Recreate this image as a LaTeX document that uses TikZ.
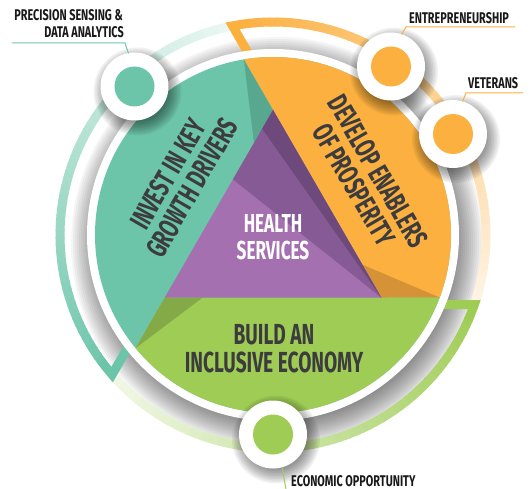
\documentclass[tikz,border=0pt]{standalone}
\usepackage{fontspec}
\newfontfamily\bebas[FakeStretch=0.66]{Fira Sans}
\newfontfamily\bebasS[FakeStretch=0.7]{Fira Sans}
\usetikzlibrary{calc}
\definecolor{tealA}{RGB}{108,197,169}
\definecolor{tealD}{RGB}{88,168,143}
\definecolor{orngA}{RGB}{251,176,64}
\definecolor{orngD}{RGB}{214,146,54}
\definecolor{grnA}{RGB}{158,204,84}
\definecolor{grnD}{RGB}{132,170,72}
\definecolor{purL}{RGB}{165,112,176}
\definecolor{purM}{RGB}{134,90,148}
\definecolor{purD}{RGB}{110,74,124}
\definecolor{txt}{RGB}{60,60,62}
\definecolor{lbltxt}{RGB}{25,25,25}
\newcommand\ringarc[2]{%
  \pgfmathsetmacro\ringB{#2-70.95}%
  \foreach \i in {0,...,57}{%
    \pgfmathsetmacro\ringS{\ringB+4+2*\i}%
    \pgfmathtruncatemacro\ringP{97-1.45*\i}%
    \draw[line width=9pt, draw=#1!\ringP!white] plot[domain=\ringS:\ringS+2.4, samples=3] ({273+213*cos(\x)},{235+213*sin(\x)});
  }}
\newcommand\ringbracket[2]{%
  \pgfmathsetmacro\ringB{#2-70.95}%
  \draw[line width=9pt, draw=#1, line join=miter] ($(O)+(#2:69.5)+(#2-90:160)$) -- plot[domain=\ringB:\ringB+4.5, samples=5] ({273+213*cos(\x)},{235+213*sin(\x)});}
\newcommand\smallcirc[2]{%
  \foreach \k in {0,...,9}{%
    \pgfmathsetmacro\shr{44-1.5*\k}%
    \fill[black, opacity=0.05] ($(#1)+(3,5)$) circle[radius=\shr pt];}
  \fill[white] (#1) circle[radius=34pt];
  \fill[#2] (#1) circle[radius=20pt];}
\tikzset{
  lbl/.style={font=\bebasS\bfseries\fontsize{15.5}{16}\selectfont, text=lbltxt, inner sep=0pt},
  big/.style={font=\bebas\bfseries\fontsize{29}{28}\selectfont, text=txt, align=center, inner sep=0pt},
  mid/.style={font=\bebas\bfseries\fontsize{26}{27}\selectfont, text=white, align=center, inner sep=0pt},
  lead/.style={line width=1pt}
}
\begin{document}
\begin{tikzpicture}[x=1pt,y=-1pt]
\useasboundingbox (0,0) rectangle (532,489);
\coordinate (O) at (273,235);
\coordinate (V1) at (273,110);
\coordinate (V2) at (164.75,297.5);
\coordinate (V3) at (381.25,297.5);
\coordinate (P1) at ($(O)+(-99.45:178)$);
\coordinate (P2) at ($(O)+(20.55:178)$);
\coordinate (P3) at ($(O)+(140.55:178)$);
% disc shadow
\foreach \k in {0,...,15}{%
  \pgfmathsetmacro\shr{206-2*\k}%
  \fill[black, opacity=0.038] ($(O)+(4,8)$) circle[radius=\shr pt];}
% outer rings
\ringarc{tealA}{210}
\ringarc{orngA}{-30}
\ringarc{grnA}{90}
\ringbracket{tealA}{210}
\ringbracket{orngA}{-30}
\ringbracket{grnA}{90}
% disc
\fill[white] (O) circle[radius=186pt];
\fill[tealA] (O) circle[radius=178pt];
\fill[orngA] (V1) -- (P1) -- plot[domain=-99.45:20.55, samples=80] ({273+178*cos(\x)},{235+178*sin(\x)}) -- (P2) -- (V3) -- cycle;
\fill[grnA] (V3) -- (P2) -- plot[domain=20.55:140.55, samples=80] ({273+178*cos(\x)},{235+178*sin(\x)}) -- (P3) -- (V2) -- cycle;
\fill[tealD] (V1) -- (P1) -- ($(V1)!38pt!(V2)$) -- cycle;
\fill[orngD] (V3) -- (P2) -- ($(V3)!38pt!(V1)$) -- cycle;
\fill[grnD] (V2) -- (P3) -- ($(V2)!38pt!(V3)$) -- cycle;
% purple triangle
\coordinate (S) at ($(V1)!0.37!(V2)$);
\coordinate (D) at ($(V1)!0.1!(V2)$);
\fill[purL] (V1) -- (V2) -- (V3) -- cycle;
\fill[purM] (V1) -- (S) -- (V3) -- cycle;
\fill[purD] (V1) -- (D) -- (V3) -- cycle;
% texts on disc
\node[mid] (health) at (273,237.5) {HEALTH\\SERVICES};
\node[big] (build) at (274,349) {BUILD AN\\INCLUSIVE ECONOMY};
\node[big, rotate=60] (invest) at (180,181) {INVEST IN KEY\\GROWTH DRIVERS};
\node[big, rotate=-60] (develop) at (366,178) {DEVELOP ENABLERS\\OF PROSPERITY};
% small circles
\coordinate (c1) at (134.5,86.5);
\coordinate (c2) at (391,66.5);
\coordinate (c3) at (453,134);
\coordinate (c4) at (273,434.5);
\smallcirc{c1}{tealA}
\smallcirc{c2}{orngA}
\smallcirc{c3}{orngA}
\smallcirc{c4}{grnA}
% labels and leaders
\node[lbl, anchor=base east] (prec1) at (123,20.5) {PRECISION SENSING \&};
\node[lbl, anchor=base east] (prec2) at (124,37.5) {DATA ANALYTICS};
\coordinate (t1a) at (12,43); \coordinate (t1b) at (125,43); \coordinate (t1c) at (128.5,53.5);
\draw[lead, tealA] (t1a) -- (t1b) -- (t1c);
\node[lbl, anchor=base west] (entre) at (409,23.5) {ENTREPRENEURSHIP};
\coordinate (t2a) at (515,27); \coordinate (t2b) at (406,27); \coordinate (t2c) at (401.5,34.5);
\draw[lead, orngA] (t2a) -- (t2b) -- (t2c);
\node[lbl, anchor=base west] (vet) at (468,88.5) {VETERANS};
\coordinate (t3a) at (523,93); \coordinate (t3b) at (466,93); \coordinate (t3c) at (462.5,101.5);
\draw[lead, orngA] (t3a) -- (t3b) -- (t3c);
\node[lbl, anchor=base west] (econ) at (291,486) {ECONOMIC OPPORTUNITY};
\coordinate (t4a) at (282,467.5); \coordinate (t4b) at (286,489);
\draw[lead, grnA] (t4a) -- (t4b);
\end{tikzpicture}
\end{document}
